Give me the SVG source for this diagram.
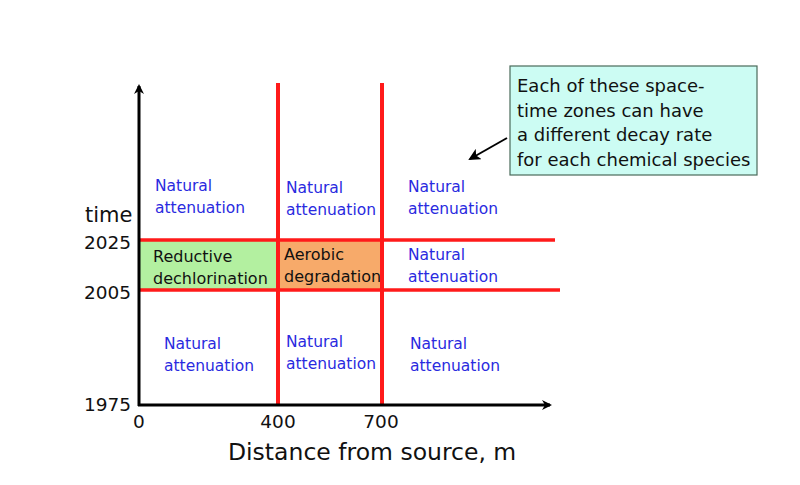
<svg xmlns="http://www.w3.org/2000/svg" width="800" height="485" viewBox="0 0 800 485">
<defs>
<marker id="ah" markerWidth="10" markerHeight="10" refX="8" refY="5" orient="auto" markerUnits="userSpaceOnUse"><path d="M0,0 L10,5 L0,10 L3,5 Z" fill="#000"/></marker>
<marker id="ah2" markerWidth="12" markerHeight="12" refX="10" refY="6" orient="auto" markerUnits="userSpaceOnUse"><path d="M0,0 L12,6 L0,12 L3,6 Z" fill="#000"/></marker>
</defs>
<style>
text{font-family:"DejaVu Sans","Verdana",sans-serif;}
.na{fill:#2a2ae0;font-size:15.5px;}
.lbl{fill:#111;font-size:16px;}
.num{fill:#111;font-size:18.5px;}
.red{stroke:#ff1a1a;fill:none;}
.ax{stroke:#000;stroke-width:3;fill:none;}
.co{fill:#111;font-size:18px;}
</style>
<rect width="800" height="485" fill="#fff"/>
<g id="zone-reductive"><rect x="139" y="240" width="139" height="50" fill="#b3f0a0"/><text class="lbl" x="153" y="262">Reductive</text><text class="lbl" x="153" y="284">dechlorination</text></g>
<g id="zone-aerobic"><rect x="278" y="240" width="104" height="50" fill="#f7aa6a"/><text class="lbl" x="284" y="260">Aerobic</text><text class="lbl" x="284" y="282">degradation</text></g>
<g id="connectors">
<line class="red" x1="278" y1="83" x2="278" y2="405" stroke-width="4"/>
<line class="red" x1="382" y1="83" x2="382" y2="405" stroke-width="4"/>
<line class="red" x1="139" y1="240" x2="555" y2="240" stroke-width="3.5"/>
<line class="red" x1="139" y1="290" x2="560" y2="290" stroke-width="3.5"/>
<line class="ax" x1="139" y1="406" x2="139" y2="86" marker-end="url(#ah)"/>
<line class="ax" x1="138" y1="405" x2="550" y2="405" marker-end="url(#ah)"/>
<line x1="507" y1="138" x2="470" y2="159" stroke="#000" stroke-width="2" marker-end="url(#ah2)"/>
</g>
<g id="zone-na-1"><text class="na" x="155" y="191">Natural</text><text class="na" x="155" y="213">attenuation</text></g>
<g id="zone-na-2"><text class="na" x="286" y="193">Natural</text><text class="na" x="286" y="215">attenuation</text></g>
<g id="zone-na-3"><text class="na" x="408" y="192">Natural</text><text class="na" x="408" y="214">attenuation</text></g>
<g id="zone-na-4"><text class="na" x="408" y="260">Natural</text><text class="na" x="408" y="282">attenuation</text></g>
<g id="zone-na-5"><text class="na" x="164" y="349">Natural</text><text class="na" x="164" y="371">attenuation</text></g>
<g id="zone-na-6"><text class="na" x="286" y="347">Natural</text><text class="na" x="286" y="369">attenuation</text></g>
<g id="zone-na-7"><text class="na" x="410" y="349">Natural</text><text class="na" x="410" y="371">attenuation</text></g>
<g id="callout"><rect x="510" y="66" width="247" height="109" fill="#ccfcf3" stroke="#4a6a5a" stroke-width="1.2"/>
<text class="co" x="517" y="92">Each of these space-</text>
<text class="co" x="517" y="117">time zones can have</text>
<text class="co" x="517" y="141">a different decay rate</text>
<text class="co" x="517" y="166">for each chemical species</text></g>
<g id="axis-labels">
<text x="85" y="222" font-size="21" fill="#111">time</text>
<text class="num" x="131" y="249" text-anchor="end">2025</text>
<text class="num" x="131" y="299" text-anchor="end">2005</text>
<text class="num" x="131" y="411" text-anchor="end">1975</text>
<text class="num" x="133" y="428">0</text>
<text class="num" x="278" y="428" text-anchor="middle">400</text>
<text class="num" x="381" y="428" text-anchor="middle">700</text>
<text x="228" y="460" font-size="23.5" fill="#111">Distance from source, m</text>
</g>
</svg>
